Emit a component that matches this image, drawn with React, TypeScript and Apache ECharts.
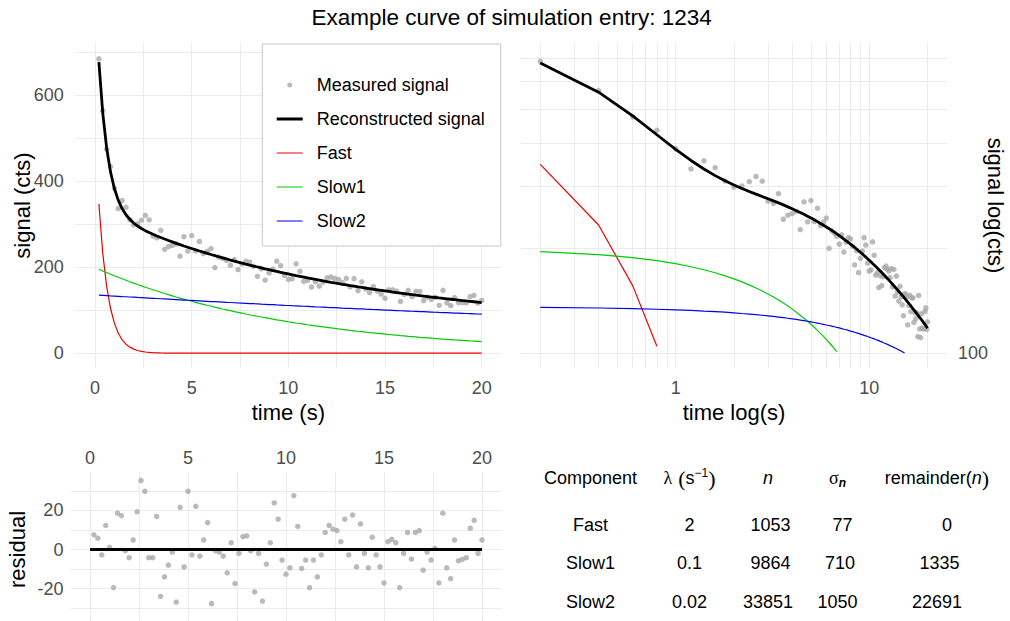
import React, { useEffect, useRef } from "react";
import * as echarts from "echarts";

// ---------------- data ----------------
const chartTitle = "Example curve of simulation entry: 1234";

const time = [
  0.2, 0.4, 0.6, 0.8, 1.0, 1.2, 1.4, 1.6, 1.8, 2.0,
  2.2, 2.4, 2.6, 2.8, 3.0, 3.2, 3.4, 3.6, 3.8, 4.0,
  4.2, 4.4, 4.6, 4.8, 5.0, 5.2, 5.4, 5.6, 5.8, 6.0,
  6.2, 6.4, 6.6, 6.8, 7.0, 7.2, 7.4, 7.6, 7.8, 8.0,
  8.2, 8.4, 8.6, 8.8, 9.0, 9.2, 9.4, 9.6, 9.8, 10.0,
  10.2, 10.4, 10.6, 10.8, 11.0, 11.2, 11.4, 11.6, 11.8, 12.0,
  12.2, 12.4, 12.6, 12.8, 13.0, 13.2, 13.4, 13.6, 13.8, 14.0,
  14.2, 14.4, 14.6, 14.8, 15.0, 15.2, 15.4, 15.6, 15.8, 16.0,
  16.2, 16.4, 16.6, 16.8, 17.0, 17.2, 17.4, 17.6, 17.8, 18.0,
  18.2, 18.4, 18.6, 18.8, 19.0, 19.2, 19.4, 19.6, 19.8, 20.0,
];

const measured = [
  685.1, 564.6, 474.9, 434.3, 384.5, 336.7, 355.3, 339.6, 310.9, 298.8,
  301.0, 309.6, 320.6, 310.6, 272.5, 268.6, 286.1, 241.7, 248.3, 251.0,
  254.5, 225.8, 271.2, 237.7, 273.5, 238.0, 260.0, 231.7, 237.3, 243.5,
  199.4, 223.9, 220.6, 216.0, 205.0, 218.0, 194.7, 207.7, 214.0, 212.2,
  202.3, 179.0, 196.6, 170.0, 186.8, 195.8, 214.1, 203.8, 180.9, 171.8,
  173.1, 208.2, 190.6, 167.3, 169.8, 154.0, 166.4, 156.1, 165.6, 175.5,
  177.4, 173.9, 171.7, 164.4, 174.4, 154.6, 173.6, 145.6, 166.2, 149.7,
  140.9, 155.2, 144.8, 137.4, 127.9, 147.7, 147.6, 144.7, 120.5, 136.8,
  146.3, 131.5, 143.9, 143.8, 122.4, 130.6, 125.4, 130.3, 111.5, 146.2,
  117.2, 110.7, 129.5, 117.8, 117.5, 117.4, 131.6, 134.7, 116.8, 122.8,
];

const reconstructed = [
  677.6, 558.8, 477.7, 422.0, 383.4, 356.2, 336.7, 322.3, 311.5, 303.0,
  296.1, 290.3, 285.3, 280.8, 276.7, 272.8, 269.2, 265.7, 262.3, 259.0,
  255.8, 252.7, 249.6, 246.6, 243.7, 240.8, 237.9, 235.1, 232.4, 229.7,
  227.1, 224.5, 221.9, 219.4, 216.9, 214.5, 212.1, 209.7, 207.4, 205.2,
  202.9, 200.7, 198.6, 196.4, 194.3, 192.3, 190.3, 188.3, 186.3, 184.4,
  182.5, 180.6, 178.8, 177.0, 175.2, 173.5, 171.8, 170.1, 168.4, 166.8,
  165.1, 163.5, 162.0, 160.4, 158.9, 157.4, 156.0, 154.5, 153.1, 151.7,
  150.3, 148.9, 147.6, 146.3, 145.0, 143.7, 142.4, 141.2, 140.0, 138.8,
  137.6, 136.4, 135.2, 134.1, 133.0, 131.9, 130.8, 129.7, 128.6, 127.6,
  126.6, 125.6, 124.6, 123.6, 122.6, 121.6, 120.7, 119.8, 118.8, 117.9,
];

const fast = [
  347.2, 232.7, 156.0, 104.6, 70.1, 47.0, 31.5, 21.1, 14.2, 9.5,
  6.4, 4.3, 2.9, 1.9, 1.3, 0.9, 0.6, 0.4, 0.3, 0.2,
  0.1, 0.1, 0.1, 0, 0, 0, 0, 0, 0, 0,
  0, 0, 0, 0, 0, 0, 0, 0, 0, 0,
  0, 0, 0, 0, 0, 0, 0, 0, 0, 0,
  0, 0, 0, 0, 0, 0, 0, 0, 0, 0,
  0, 0, 0, 0, 0, 0, 0, 0, 0, 0,
  0, 0, 0, 0, 0, 0, 0, 0, 0, 0,
  0, 0, 0, 0, 0, 0, 0, 0, 0, 0,
  0, 0, 0, 0, 0, 0, 0, 0, 0, 0,
];

const slow1 = [
  195.3, 191.5, 187.7, 183.9, 180.3, 176.7, 173.2, 169.8, 166.4, 163.1,
  159.9, 156.8, 153.6, 150.6, 147.6, 144.7, 141.8, 139.0, 136.3, 133.6,
  130.9, 128.3, 125.8, 123.3, 120.9, 118.5, 116.1, 113.8, 111.6, 109.4,
  107.2, 105.1, 103.0, 101.0, 99.0, 97.0, 95.1, 93.2, 91.3, 89.5,
  87.8, 86.0, 84.3, 82.7, 81.0, 79.4, 77.8, 76.3, 74.8, 73.3,
  71.9, 70.4, 69.0, 67.7, 66.3, 65.0, 63.7, 62.5, 61.2, 60.0,
  58.8, 57.7, 56.5, 55.4, 54.3, 53.2, 52.2, 51.1, 50.1, 49.1,
  48.2, 47.2, 46.3, 45.4, 44.5, 43.6, 42.7, 41.9, 41.0, 40.2,
  39.4, 38.7, 37.9, 37.1, 36.4, 35.7, 35.0, 34.3, 33.6, 32.9,
  32.3, 31.7, 31.0, 30.4, 29.8, 29.2, 28.6, 28.1, 27.5, 27.0,
];

const slow2 = [
  135.1, 134.6, 134.1, 133.5, 133.0, 132.5, 131.9, 131.4, 130.9, 130.4,
  129.8, 129.3, 128.8, 128.3, 127.8, 127.3, 126.8, 126.3, 125.8, 125.3,
  124.8, 124.3, 123.8, 123.3, 122.8, 122.3, 121.8, 121.3, 120.8, 120.3,
  119.9, 119.4, 118.9, 118.4, 118.0, 117.5, 117.0, 116.6, 116.1, 115.6,
  115.2, 114.7, 114.2, 113.8, 113.3, 112.9, 112.4, 112.0, 111.5, 111.1,
  110.6, 110.2, 109.8, 109.3, 108.9, 108.5, 108.0, 107.6, 107.2, 106.7,
  106.3, 105.9, 105.5, 105.0, 104.6, 104.2, 103.8, 103.4, 103.0, 102.5,
  102.1, 101.7, 101.3, 100.9, 100.5, 100.1, 99.7, 99.3, 98.9, 98.5,
  98.1, 97.7, 97.4, 97.0, 96.6, 96.2, 95.8, 95.4, 95.0, 94.7,
  94.3, 93.9, 93.5, 93.2, 92.8, 92.4, 92.1, 91.7, 91.3, 91.0,
];

const residual = [
  7.5, 5.8, -2.8, 12.3, 1.1, -19.5, 18.6, 17.3, -0.6, -4.2,
  4.9, 19.3, 35.3, 29.8, -4.2, -4.2, 16.9, -24.0, -14.0, -8.0,
  -1.3, -26.9, 21.6, -8.9, 29.8, -2.8, 22.1, -3.4, 4.9, 13.8,
  -27.7, -0.6, -1.3, -3.4, -11.9, 3.5, -17.4, -2.0, 6.6, 7.0,
  -0.6, -21.7, -2.0, -26.4, -7.5, 3.5, 23.8, 15.5, -5.4, -12.6,
  -9.4, 27.6, 11.8, -9.7, -5.4, -19.5, -5.4, -14.0, -2.8, 8.7,
  12.3, 10.4, 9.7, 4.0, 15.5, -2.8, 17.6, -8.9, 13.1, -2.0,
  -9.4, 6.3, -2.8, -8.9, -17.1, 4.0, 5.2, 3.5, -19.5, -2.0,
  8.7, -4.9, 8.7, 9.7, -10.6, -1.3, -5.4, 0.6, -17.1, 18.6,
  -9.4, -14.9, 4.9, -5.8, -5.1, -4.2, 10.9, 14.9, -2.0, 4.9,
];

const zeroLine = [
  [0, 0],
  [20, 0],
];

// tick labels
const linearXTicks = [0, 5, 10, 15, 20];
const linearYTicks = [0, 200, 400, 600];
const logXTicks = [1, 10];
const logYTicks = [100];
const residualYTicks = [-20, 0, 20];

// grid lines (major + minor)
const linearXGrid = [0, 2.5, 5, 7.5, 10, 12.5, 15, 17.5, 20];
const linearYGrid = [0, 100, 200, 300, 400, 500, 600, 700];
const logXGrid = [0.2, 0.3, 0.4, 0.5, 0.6, 0.7, 0.8, 0.9, 1, 2, 3, 4, 5, 6, 7, 8, 9, 10, 20];
const logYGrid = [100, 200, 300, 400, 500, 600, 700];
const residualYGrid = [-30, -20, -10, 0, 10, 20, 30];

const LOG_Y_FLOOR = 100;

// table
const tableComponents = ["Fast", "Slow1", "Slow2"];
const tableLambda = ["2", "0.1", "0.02"];
const tableN = ["1053", "9864", "33851"];
const tableSigma = ["77", "710", "1050"];
const tableRemainder = ["0", "1335", "22691"];

// ---------------- styling ----------------
const FONT = "'Liberation Sans', Arial, Helvetica, sans-serif";
const FONT_SERIF = "'Liberation Serif', 'DejaVu Serif', 'Times New Roman', serif";
const TICK_COLOR = "#4d4d4d";
const GRID_COLOR = "#ebebeb";
const POINT_COLOR = "#a9a9a9";
const COL_FAST = "#ee0000";
const COL_SLOW1 = "#00cc00";
const COL_SLOW2 = "#0000ee";
const TABLE_FONT = 18;

// legend key icons (26x14 box; invisible corner specks fix the bounding box)
const BOX = "M0 0h0.01v0.01h-0.01zM26 14h-0.01v-0.01h0.01z";
const DOT_ICON = "path://" + BOX + "M10.5 7a2.5 2.5 0 1 0 5 0a2.5 2.5 0 1 0 -5 0z";
const THIN_LINE_ICON = "path://" + BOX + "M0 6.4h26v1.2h-26z";
const THICK_LINE_ICON = "path://" + BOX + "M0 5.6h26v2.8h-26z";

const pairs = (ys: number[]) => time.map((t, i) => [t, ys[i]]);
const logPairs = (ys: number[]) => pairs(ys).filter((p) => p[1] >= LOG_Y_FLOOR);

const labelFor = (ticks: number[], margin: number) => ({
  color: TICK_COLOR,
  fontSize: 18,
  fontFamily: FONT,
  margin,
  customValues: ticks,
  formatter: (v: number) => {
    const hit = ticks.find((t) => Math.abs(t - v) < 1e-6 * Math.max(1, Math.abs(t)));
    return hit === undefined ? "" : String(hit);
  },
});

const axisTitle = { color: "#000", fontSize: 22, fontFamily: FONT };

const bare = {
  axisLine: { show: false },
  axisTick: { show: false },
  splitLine: { show: false },
  minorTick: { show: false },
  minorSplitLine: { show: false },
  nameMoveOverlap: false,
  nameTextStyle: axisTitle,
};

const gridLineSeries = (idx: number, xs: number[], ys: number[]) => ({
  type: "line",
  xAxisIndex: idx,
  yAxisIndex: idx,
  data: [],
  silent: true,
  z: 0,
  markLine: {
    silent: true,
    z: 1,
    symbol: ["none", "none"],
    precision: 4,
    label: { show: false },
    emphasis: { disabled: true },
    lineStyle: { color: GRID_COLOR, width: 1, type: "solid" },
    data: [...xs.map((v) => ({ xAxis: v })), ...ys.map((v) => ({ yAxis: v }))],
  },
});

const signalSeries = (idx: number, log: boolean) => {
  const P = log ? logPairs : pairs;
  const line = (name: string, ys: number[], color: string, width: number, z: number) => ({
    name,
    type: "line",
    xAxisIndex: idx,
    yAxisIndex: idx,
    data: P(ys),
    symbol: "none",
    z,
    lineStyle: { color, width },
    itemStyle: { color },
    emphasis: { disabled: true },
  });
  return [
    {
      name: "Measured signal",
      type: "scatter",
      xAxisIndex: idx,
      yAxisIndex: idx,
      data: P(measured),
      symbolSize: 5.5,
      itemStyle: { color: POINT_COLOR },
      z: 2,
      emphasis: { disabled: true },
    },
    line("Reconstructed signal", reconstructed, "#000000", 2.8, 4),
    line("Fast", fast, COL_FAST, 1.2, 3),
    line("Slow1", slow1, COL_SLOW1, 1.2, 3),
    line("Slow2", slow2, COL_SLOW2, 1.2, 3),
  ];
};

// table layout
const colCenters = [590.5, 689.5, 768, 837.5, 937];
const rowYs = [478.3, 525, 563.3, 601.7];
const padOffset = (vals: string[], i: number) =>
  (Math.max(...vals.map((v) => v.length)) - vals[i].length) * 0.139 * TABLE_FONT;

const richHeader = {
  l: { fontFamily: FONT_SERIF, fontSize: 18, padding: [0, 6, 0, 0] },
  g: { fontFamily: FONT_SERIF, fontSize: 18 },
  p: { fontFamily: FONT_SERIF, fontSize: 22 },
  sup: { fontSize: 12, fontFamily: FONT, padding: [0, 0, 11, 0] },
  i: { fontStyle: "italic", fontSize: 18, fontFamily: FONT },
  sub: { fontSize: 12, fontStyle: "italic", fontWeight: "bold", fontFamily: FONT, padding: [9, 0, 0, 0] },
};

const headers = [
  "Component",
  "{l|λ}{p|(}s{sup|−1}{p|)}",
  "{i|n}",
  "{g|σ}{sub|n}",
  "remainder({i|n}{p|)}",
];

const cellText = (text: string, x: number, y: number) => ({
  type: "text",
  x,
  y,
  silent: true,
  style: {
    text,
    align: "center",
    verticalAlign: "middle",
    fontSize: TABLE_FONT,
    fontFamily: FONT,
    fill: "#000",
    rich: richHeader,
  },
});

const tableElements = () => {
  const els: any[] = [];
  headers.forEach((h, c) => els.push(cellText(h, colCenters[c], rowYs[0])));
  tableComponents.forEach((_, r) => {
    const y = rowYs[r + 1];
    els.push(cellText(tableComponents[r], colCenters[0], y));
    els.push(cellText(tableLambda[r], colCenters[1], y));
    els.push(cellText(tableN[r], colCenters[2] + padOffset(tableN, r), y));
    els.push(cellText(tableSigma[r], colCenters[3] + padOffset(tableSigma, r), y));
    els.push(cellText(tableRemainder[r], colCenters[4] + padOffset(tableRemainder, r), y));
  });
  return els;
};

const legendKey = (name: string, icon: string) => ({ name, icon, itemStyle: { borderWidth: 0 } });

const buildOption = () => ({
  animation: false,
  backgroundColor: "#ffffff",
  title: {
    text: chartTitle,
    left: 311.5,
    top: 6,
    padding: 0,
    textStyle: { fontSize: 22.5, fontWeight: "normal", color: "#000", fontFamily: FONT },
  },
  legend: {
    orient: "vertical",
    left: 262.3,
    top: 44,
    itemWidth: 26,
    itemHeight: 14,
    itemGap: 16,
    padding: [32, 16, 16, 14.4],
    backgroundColor: "#ffffff",
    borderColor: "#c6c6c6",
    borderWidth: 1,
    borderRadius: 0,
    selectedMode: false,
    textStyle: { fontSize: 18, color: "#000", fontFamily: FONT, padding: [0, 0, 0, 9] },
    data: [
      legendKey("Measured signal", DOT_ICON),
      legendKey("Reconstructed signal", THICK_LINE_ICON),
      legendKey("Fast", THIN_LINE_ICON),
      legendKey("Slow1", THIN_LINE_ICON),
      legendKey("Slow2", THIN_LINE_ICON),
    ],
  },
  grid: [
    { left: 75.7, top: 43, width: 425.3, height: 325, containLabel: false, outerBoundsMode: "none" },
    { left: 521, top: 43, width: 426, height: 325, containLabel: false, outerBoundsMode: "none" },
    { left: 70.4, top: 471.7, width: 431.2, height: 155.6, containLabel: false, outerBoundsMode: "none" },
  ],
  xAxis: [
    {
      ...bare,
      type: "value",
      gridIndex: 0,
      min: -1,
      max: 21,
      name: "time (s)",
      nameLocation: "middle",
      nameGap: 33,
      axisLabel: labelFor(linearXTicks, 11),
    },
    {
      ...bare,
      type: "log",
      logBase: 10,
      gridIndex: 1,
      min: 0.159,
      max: 25.2,
      name: "time log(s)",
      nameLocation: "middle",
      nameGap: 33,
      axisLabel: labelFor(logXTicks, 11),
    },
    {
      ...bare,
      type: "value",
      gridIndex: 2,
      min: -1,
      max: 21,
      position: "top",
      axisLabel: labelFor(linearXTicks, 4.5),
    },
  ],
  yAxis: [
    {
      ...bare,
      type: "value",
      gridIndex: 0,
      min: -34.4,
      max: 722,
      name: "signal (cts)",
      nameLocation: "middle",
      nameGap: 42,
      nameRotate: 90,
      axisLabel: labelFor(linearYTicks, 12),
    },
    {
      ...bare,
      type: "log",
      logBase: 10,
      gridIndex: 1,
      min: 90.6,
      max: 773,
      position: "right",
      name: "signal log(cts)",
      nameLocation: "middle",
      nameGap: 37,
      nameRotate: -90,
      axisLabel: labelFor(logYTicks, 11),
    },
    {
      ...bare,
      type: "value",
      gridIndex: 2,
      min: -39.8,
      max: 39.8,
      name: "residual",
      nameLocation: "middle",
      nameGap: 42,
      nameRotate: 90,
      axisLabel: labelFor(residualYTicks, 7),
    },
  ],
  series: [
    gridLineSeries(0, linearXGrid, linearYGrid),
    gridLineSeries(1, logXGrid, logYGrid),
    gridLineSeries(2, linearXGrid, residualYGrid),
    ...signalSeries(0, false),
    ...signalSeries(1, true),
    {
      name: "residual points",
      type: "scatter",
      xAxisIndex: 2,
      yAxisIndex: 2,
      data: pairs(residual),
      symbolSize: 5.5,
      itemStyle: { color: POINT_COLOR },
      z: 2,
      emphasis: { disabled: true },
    },
    {
      name: "zero",
      type: "line",
      xAxisIndex: 2,
      yAxisIndex: 2,
      data: zeroLine,
      symbol: "none",
      lineStyle: { color: "#000", width: 2.8 },
      z: 4,
      emphasis: { disabled: true },
    },
  ],
  graphic: { elements: tableElements() },
});

export default function App() {
  const ref = useRef<HTMLDivElement>(null);
  useEffect(() => {
    document.body.style.margin = "0";
    const chart = echarts.init(ref.current as HTMLDivElement, null, {
      renderer: "svg",
      width: 1010,
      height: 621,
    });
    chart.setOption(buildOption() as any);
    return () => chart.dispose();
  }, []);
  return <div ref={ref} style={{ width: 1010, height: 621 }} />;
}
